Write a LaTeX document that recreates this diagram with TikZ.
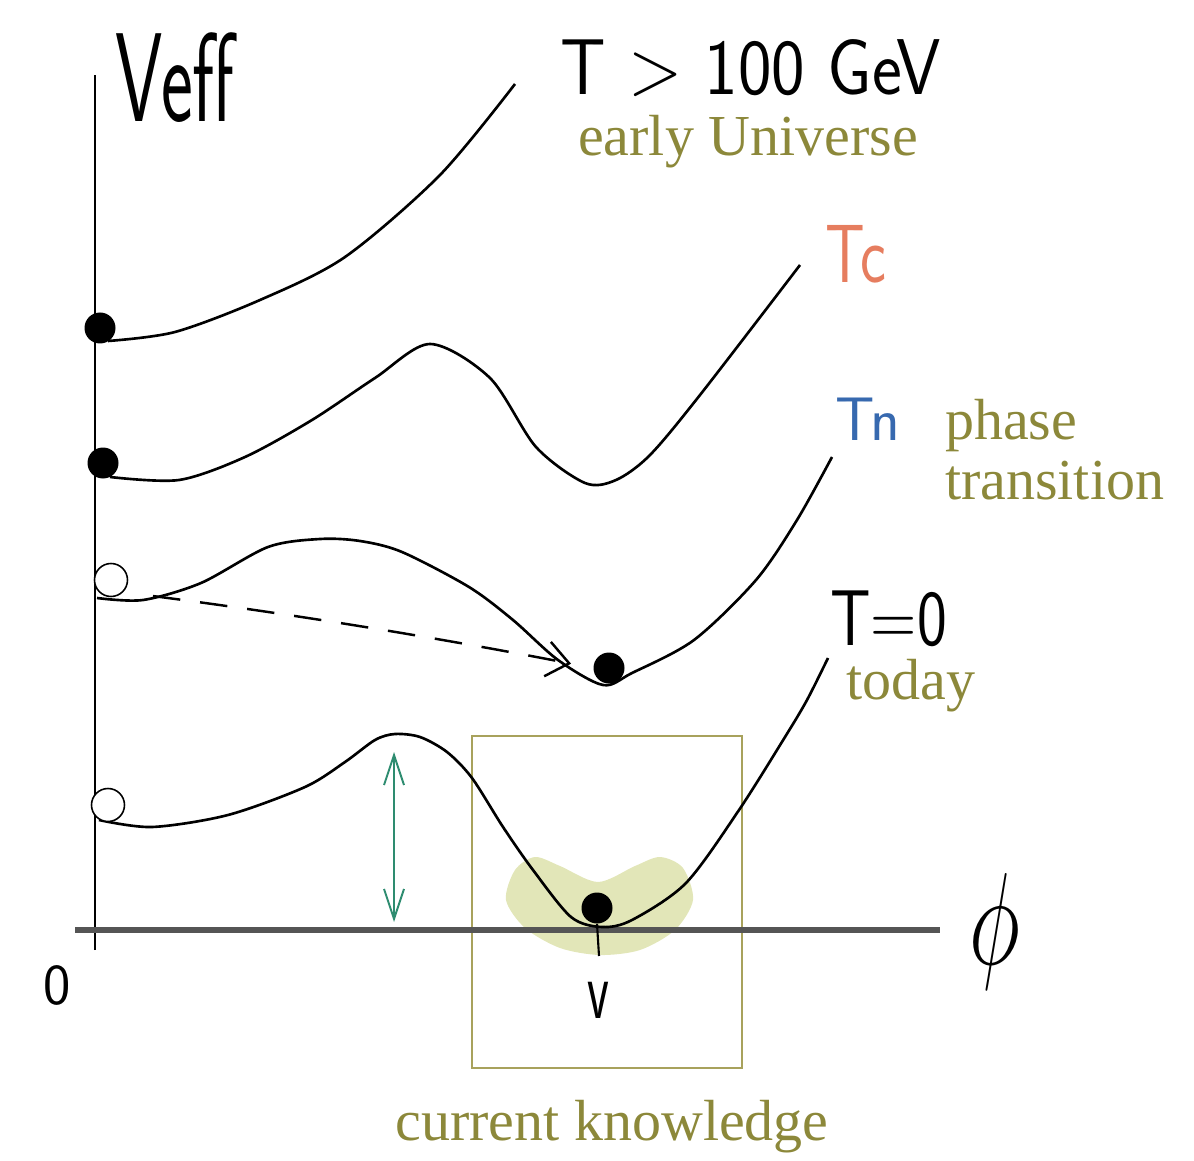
\documentclass[tikz,border=0pt]{standalone}
\usepackage{fontspec}
\setmainfont{Liberation Serif}
\usepackage{tikz}
\usetikzlibrary{arrows.meta,positioning,calc}
\definecolor{olivetext}{RGB}{140,136,58}
\definecolor{axisgrey}{RGB}{85,85,85}
\newcommand{\hand}{\sffamily}

\begin{document}
\begin{tikzpicture}[x=0.2mm,y=-0.2mm,>=Straight Barb,
  curve/.style={line width=1.5pt,line join=round,smooth},
  ball/.style={circle,fill=black,inner sep=0pt,minimum size=6.2mm},
  hollow/.style={circle,draw=black,fill=white,line width=0.9pt,inner sep=0pt,minimum size=6.6mm},
  lab/.style={text=olivetext,font=\fontsize{33}{34}\selectfont,inner sep=1pt},
  handlab/.style={font=\hand\fontsize{45}{48}\selectfont,inner sep=0pt}]
\definecolor{cBox}{RGB}{168,162,92}\definecolor{cBlob}{RGB}{226,230,184}
\definecolor{cBar}{RGB}{46,140,112}\definecolor{cTc}{RGB}{230,125,95}\definecolor{cTn}{RGB}{55,105,175}
\useasboundingbox (0,0) rectangle (1194,1161);
% region of current knowledge
\fill[cBlob] plot[smooth cycle] coordinates {(506,900) (515,870) (535,857) (560,866) (598,882) (635,866) (660,857) (683,868) (693,900) (675,930) (640,950) (600,955) (560,948) (525,928)};
\node[draw=cBox,line width=1.4pt,inner sep=0pt,minimum width=54mm,minimum height=66.4mm] (know) at (607,902) {};
\node[lab] (knowlab) at (612,1127) {current knowledge};
% axes
\draw[line width=1.5pt] (95,950) -- (95,75);
\draw[axisgrey,line width=3.6pt] (75,930) -- (940,930);
\node[handlab] (veff) at (175,78) {\fontsize{72}{72}\selectfont\scalebox{0.6}[1]{Veff}};
\node[handlab] (zero) at (57,985) {\fontsize{33}{33}\selectfont 0};
\node[handlab] (phi) at (995,932) {\fontsize{24}{24}\selectfont\scalebox{2}[3]{$\phi$}};
% T > 100 GeV
\begin{scope}
\draw[curve] plot coordinates {(108,341) (175,332) (260,300) (345,257) (440,175) (515,84)};
\node[ball] (b1) at (100,328) {};
\node[handlab,anchor=base west] (t1) at (560,95) {\scalebox{0.9}[1]{T > 100 GeV}};
\node[lab] (early) at (748,142) {early Universe};
\end{scope}
% T_c
\begin{scope}
\draw[curve] plot coordinates {(110,477) (179,480) (245,457) (312,420) (375,378) (430,344) (490,378) (536,447) (585,483) (616,480) (650,455) (700,395) (800,265)};
\node[ball] (b2) at (103,463) {};
\node[handlab,anchor=base west,text=cTc] (t2) at (825,283) {\fontsize{47}{47}\selectfont\scalebox{0.75}[1]{Tc}};
\end{scope}
% T_n
\begin{scope}
\draw[curve] plot coordinates {(97,598) (143,600) (201,583) (268,547) (320,539) (360,541) (402,552) (469,587) (513,620) (558,660) (603,685) (632,673) (694,640) (756,580) (797,520) (832,457)};
\node[hollow] (h3) at (111,580) {};
\node[ball] (m3) at (609,668) {};
\draw[->,line width=1.4pt,dash pattern=on 5.5mm off 4mm,shorten <=6mm,shorten >=4.5mm,
  arrows={-Straight Barb[length=4.4mm,width=7mm]}] (h3.south east) .. controls (300,615) and (450,640) .. (m3.west);
\node[handlab,anchor=base west,text=cTn] (t3) at (835,440) {\fontsize{35}{35}\selectfont Tn};
\node[lab,anchor=west,align=left] (phase) at (943,450) {phase\\transition};
\end{scope}
% T = 0
\begin{scope}
\draw[curve] plot coordinates {(99,820) (152,827) (228,815) (305,787) (345,762) (375,740) (395,734) (420,737) (447,752) (472,778) (503,827) (533,870) (571,917) (602,927) (632,920) (686,883) (739,810) (785,737) (807,700) (828,658)};
\node[hollow] (h4) at (108,805) {};
\node[ball] (m4) at (597,908) {};
\coordinate (vtick) at (599,956);
\draw[line width=1.2pt] (m4.south) -- (vtick);
\node[handlab] (v) at (598,1000) {\fontsize{48}{48}\selectfont\scalebox{0.6}[1]{v}};
\coordinate (top) at (394,752); \coordinate (bot) at (394,922);
\draw[<->,cBar,line width=1.1pt,arrows={Straight Barb[length=6mm,width=4mm]-Straight Barb[length=6mm,width=4mm]}] (top) -- (bot);
\node[handlab,anchor=base west] (t4) at (830,645) {\scalebox{0.8}[1]{T=0}};
\node[lab] (today) at (911,686) {today};
\end{scope}
\end{tikzpicture}
\end{document}
